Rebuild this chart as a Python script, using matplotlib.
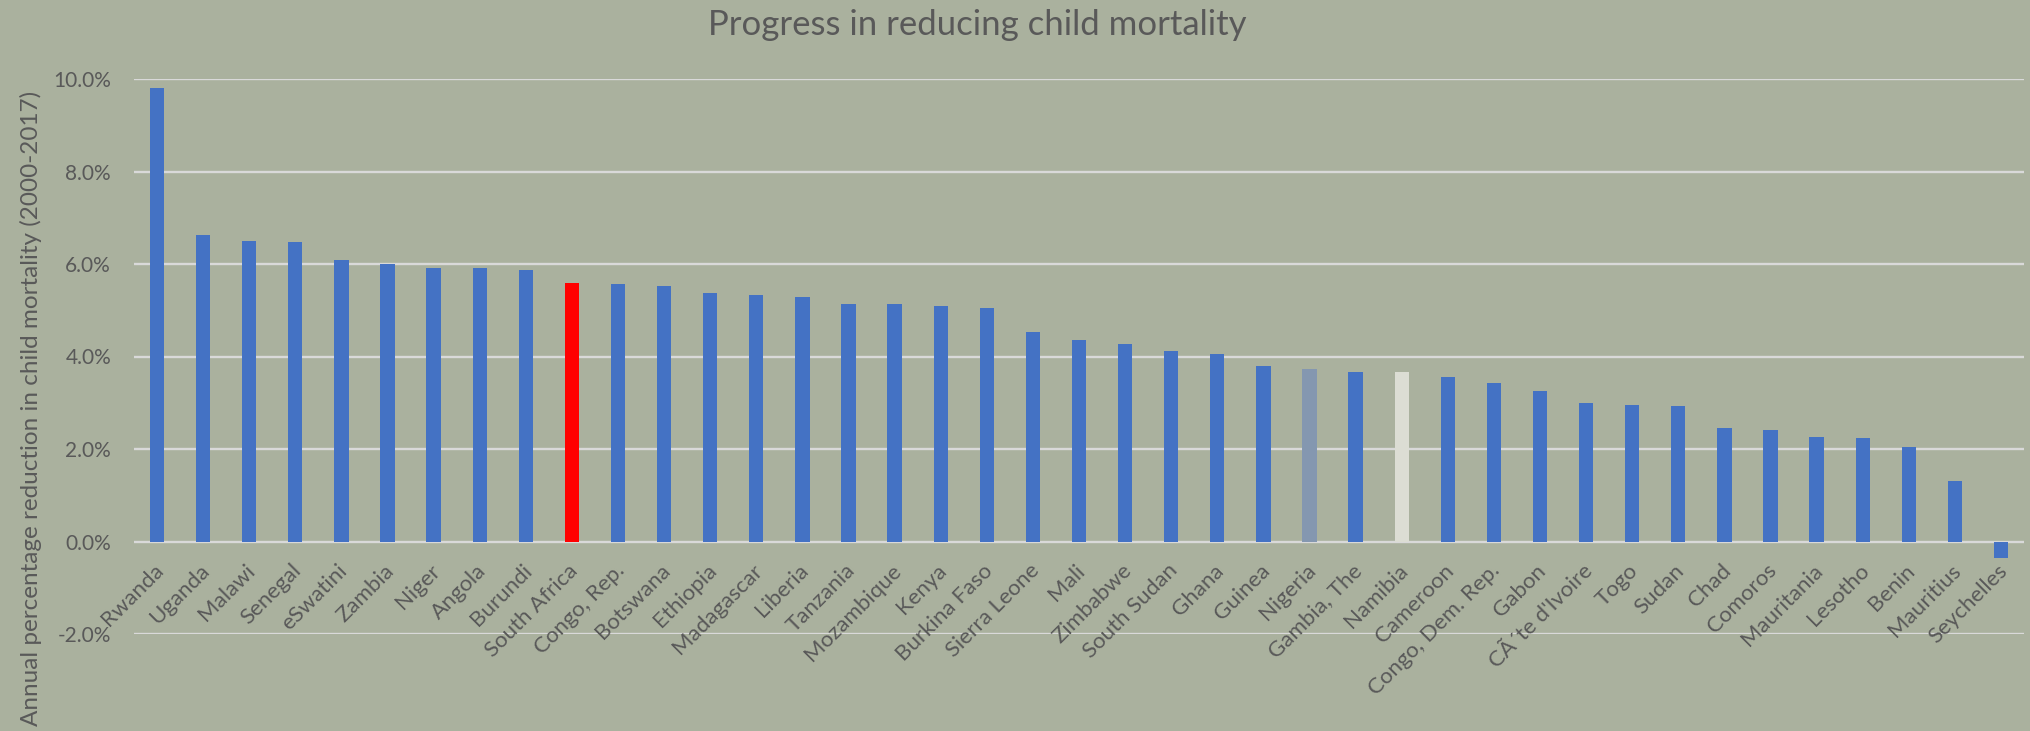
import matplotlib
matplotlib.use("Agg")
import matplotlib.pyplot as plt
import matplotlib.transforms as mtransforms
from matplotlib.ticker import FuncFormatter

countries = ["Rwanda", "Uganda", "Malawi", "Senegal", "eSwatini", "Zambia", "Niger", "Angola",
             "Burundi", "South Africa", "Congo, Rep.", "Botswana", "Ethiopia", "Madagascar",
             "Liberia", "Tanzania", "Mozambique", "Kenya", "Burkina Faso", "Sierra Leone",
             "Mali", "Zimbabwe", "South Sudan", "Ghana", "Guinea", "Nigeria", "Gambia, The",
             "Namibia", "Cameroon", "Congo, Dem. Rep.", "Gabon", "CÃ´te d'Ivoire", "Togo",
             "Sudan", "Chad", "Comoros", "Mauritania", "Lesotho", "Benin", "Mauritius",
             "Seychelles"]
values = [9.81, 6.62, 6.50, 6.48, 6.09, 6.00, 5.91, 5.91, 5.87, 5.59, 5.57, 5.52, 5.38,
          5.32, 5.29, 5.14, 5.13, 5.10, 5.05, 4.53, 4.35, 4.27, 4.12, 4.05, 3.80, 3.73,
          3.67, 3.67, 3.55, 3.42, 3.25, 3.00, 2.95, 2.92, 2.46, 2.41, 2.26, 2.24, 2.05,
          1.31, -0.35]
highlight = {"South Africa": "#FF0000", "Nigeria": "#8497B0", "Namibia": "#DCDDD4"}
base_color = "#4472C4"
yticks = [-2, 0, 2, 4, 6, 8, 10]

title = "Progress in reducing child mortality"
ylabel = "Annual percentage reduction in child mortality (2000-2017)"

bg = "#AAB19E"
txt = "#595959"
plt.rcParams['font.family'] = ['Lato', 'DejaVu Sans']

W, H = 2030, 731
fig = plt.figure(figsize=(W / 100, H / 100), dpi=100, facecolor=bg)
ax = fig.add_axes([134 / W, 1 - 634 / H, (2024 - 134) / W, (634 - 79) / H])
ax.set_facecolor(bg)

x = list(range(len(countries)))
colors = [highlight.get(c, base_color) for c in countries]
ax.bar(x, values, width=0.31, color=colors, zorder=3)

ax.set_xlim(-0.5, len(countries) - 0.5)
ax.set_ylim(-2, 10)
ax.set_yticks(yticks)
ax.yaxis.set_major_formatter(FuncFormatter(lambda v, p: f"{v:.1f}%"))
ax.tick_params(axis='y', length=0, pad=16.5, labelsize=15, labelcolor=txt)
ax.set_xticks([])
ax.grid(axis='y', color="#D9D9D9", linewidth=1.7, zorder=1)
for s in ax.spines.values():
    s.set_visible(False)

offset = mtransforms.ScaledTranslation(-4 / 100, -19 / 100, fig.dpi_scale_trans)
for xi, name in zip(x, countries):
    ax.text(xi, 0, name, rotation=45, ha='right', va='top', rotation_mode='anchor',
            fontsize=16, color=txt, transform=ax.transData + offset)

fig.text(977 / W, 1 - 25 / H, title, ha='center', va='center', fontsize=25, color=txt)
fig.text(31 / W, 1 - 408 / H, ylabel, rotation=90, ha='center', va='center',
         fontsize=17.5, color=txt)

fig.savefig("out.png", dpi=100, facecolor=bg)
